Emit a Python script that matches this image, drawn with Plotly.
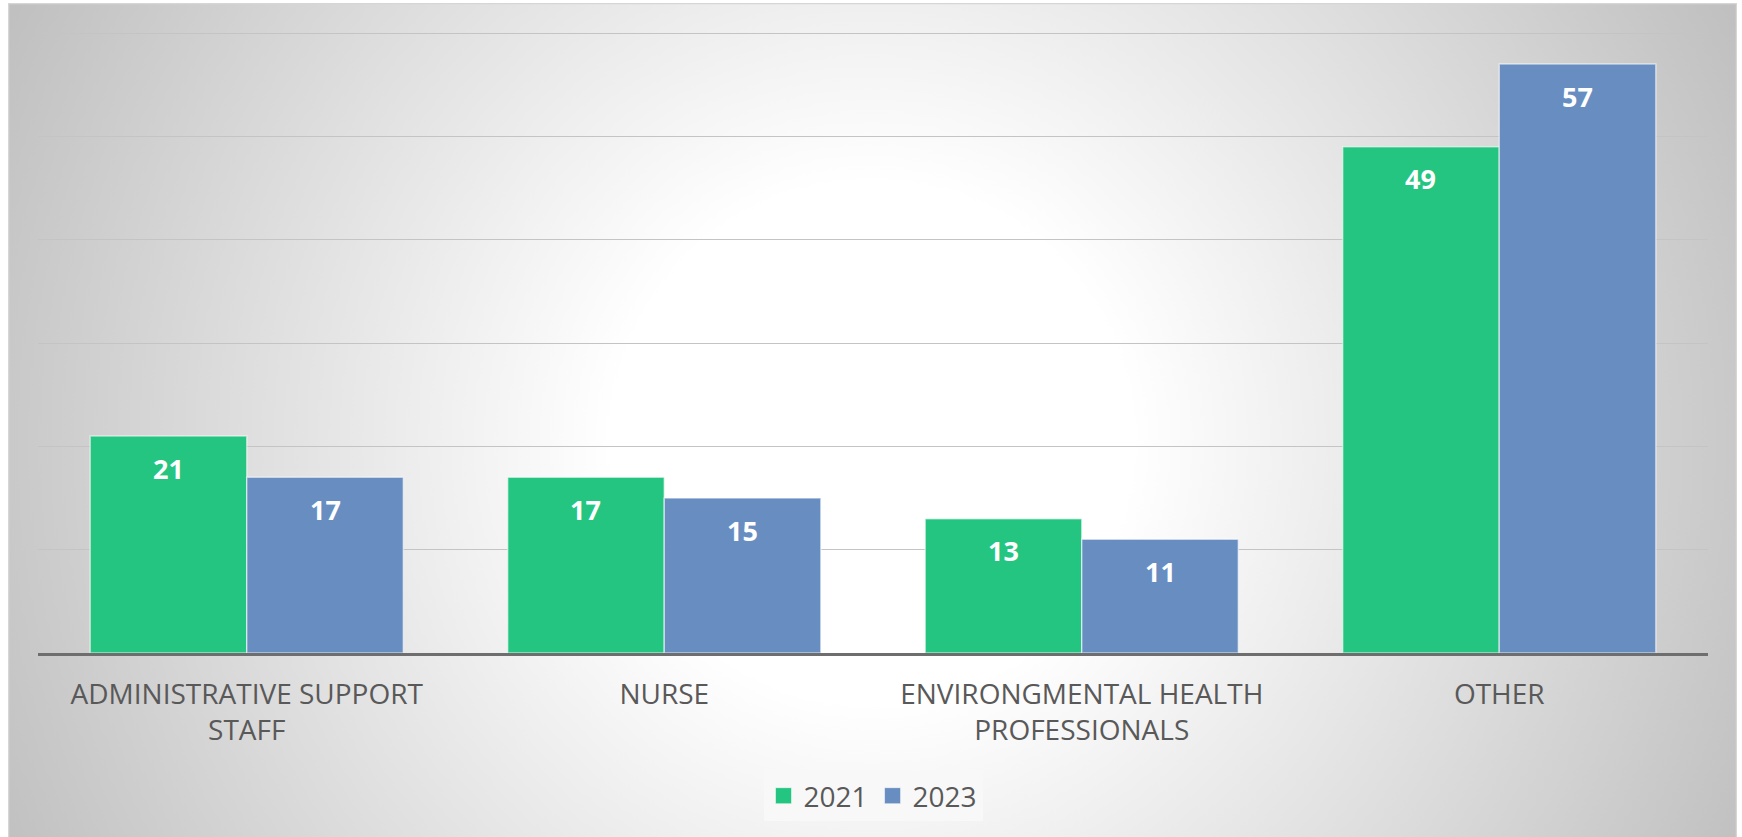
import base64
import plotly.graph_objects as go

# data
categories = ["ADMINISTRATIVE SUPPORT<br>STAFF", "NURSE",
              "ENVIRONGMENTAL HEALTH<br>PROFESSIONALS", "OTHER"]
years = ["2021", "2023"]
values_2021 = [21, 17, 13, 49]
values_2023 = [17, 15, 11, 57]

GREEN = "rgb(36,197,129)"
BLUE = "rgb(103,141,193)"
FONT = "Open Sans"

W, H = 1742, 837
L, R, T, B = 38, 34, 32, 184
pw, ph = W - L - R, H - T - B
YMAX = 60.1  # a hair over 60 so the top gridline is still drawn

# radial grey background like the Excel chart panel
svg = f"""<svg xmlns="http://www.w3.org/2000/svg" width="1729" height="834" viewBox="0 0 1729 834" preserveAspectRatio="none">
<defs><radialGradient id="g" gradientUnits="userSpaceOnUse" cx="864" cy="440" r="960">
<stop offset="0" stop-color="#ffffff"/><stop offset="0.27" stop-color="#ffffff"/>
<stop offset="1" stop-color="#c0c0c0"/></radialGradient></defs>
<rect x="0.5" y="0.5" width="1728" height="840" fill="url(#g)" stroke="#d6d6d6" stroke-width="1.5"/>
</svg>"""
bg_uri = "data:image/svg+xml;base64," + base64.b64encode(svg.encode()).decode()

fig = go.Figure()
for name, vals, col in [(years[0], values_2021, GREEN), (years[1], values_2023, BLUE)]:
    fig.add_trace(go.Bar(
        x=categories, y=vals, name=name, showlegend=False,
        marker=dict(color=col, line=dict(color="rgba(255,255,255,0.55)", width=1.5)),
    ))
# legend entries with bigger square keys
for name, col in [(years[0], GREEN), (years[1], BLUE)]:
    fig.add_trace(go.Scatter(
        x=[None], y=[None], mode="markers", name=name,
        marker=dict(symbol="square", size=16, color=col,
                    line=dict(color="rgba(255,255,255,0.5)", width=1)),
    ))

# white value labels sitting a bit below the bar tops
half = 0.375 / 2
for i in range(len(categories)):
    for off, vals in [(-half, values_2021), (half, values_2023)]:
        fig.add_annotation(
            x=i + off, y=vals[i], xref="x", yref="y", text=f"<b>{vals[i]}</b>",
            showarrow=False, yshift=-32,
            font=dict(family=FONT, size=27, color="white"),
        )

fig.add_layout_image(
    source=bg_uri, xref="paper", yref="paper",
    x=(8 - L) / pw, y=(H - B - 3) / ph, sizex=1729 / pw, sizey=834 / ph,
    xanchor="left", yanchor="top", sizing="stretch", layer="below",
)

fig.update_layout(
    width=W, height=H,
    margin=dict(l=L, r=R, t=T, b=B, pad=0),
    paper_bgcolor="white",
    plot_bgcolor="rgba(0,0,0,0)",
    barmode="group", bargap=0.25, bargroupgap=0,
    font=dict(family=FONT, color="#595959"),
    legend=dict(
        orientation="h", x=0.5, xanchor="center", y=(H - B - 796) / ph, yanchor="middle",
        bgcolor="rgba(248,248,248,0.85)", font=dict(size=28, color="#595959"),
        itemclick=False, itemdoubleclick=False, itemsizing="trace",
    ),
    showlegend=True,
)
fig.update_xaxes(
    showgrid=False, showline=True, linecolor="#6e6e6e", linewidth=3,
    tickfont=dict(size=28, color="#595959"), ticks="", ticklabelstandoff=14,
)
fig.update_yaxes(
    range=[0, YMAX], tick0=0, dtick=10, showticklabels=False,
    gridcolor="#c4c4c4", gridwidth=1, zeroline=False,
)

fig.write_html(
    "out.html",
    config={"displayModeBar": False},
    post_script="document.body.style.margin='0';document.body.style.overflow='hidden';",
)
